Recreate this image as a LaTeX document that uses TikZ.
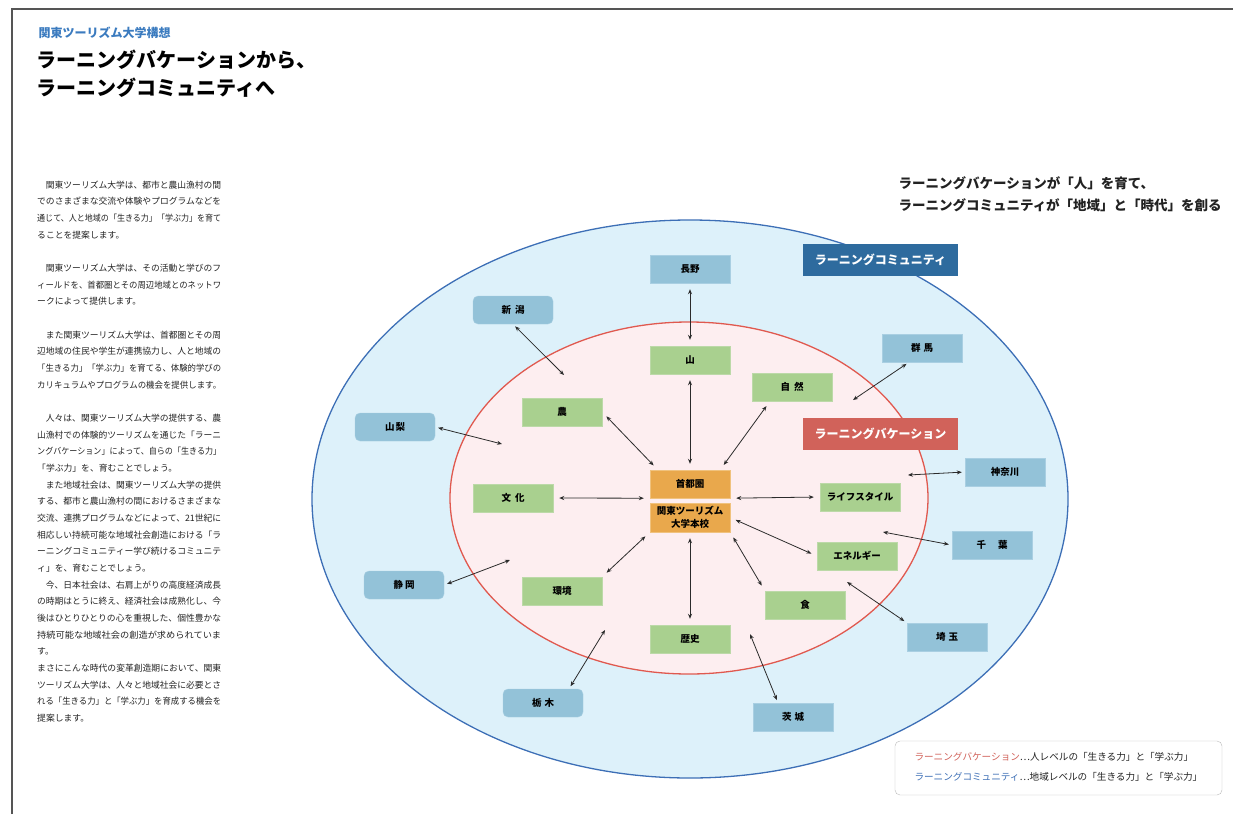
\documentclass[tikz,border=0pt]{standalone}
\usepackage{fontspec}
\setmainfont{Noto Sans CJK JP}
\usepackage{graphicx}
\usetikzlibrary{arrows.meta}
\definecolor{BgBlue}{HTML}{DDF1FA}
\definecolor{RingBlue}{HTML}{3D6FB6}
\definecolor{BgPink}{HTML}{FDEEF0}
\definecolor{RingRed}{HTML}{E0594F}
\definecolor{PrefClr}{HTML}{93C2D8}
\definecolor{PrefEdge}{HTML}{A9CFE2}
\definecolor{ThemeClr}{HTML}{A9D08F}
\definecolor{ThemeEdge}{HTML}{BCD9A8}
\definecolor{HubClr}{HTML}{E9A84C}
\definecolor{HubEdge}{HTML}{F0C27E}
\definecolor{CommClr}{HTML}{2E6B9E}
\definecolor{VacClr}{HTML}{D1625A}
\definecolor{TitleBlue}{HTML}{3B7BBF}
\definecolor{TxtGray}{HTML}{222222}
\definecolor{ArrClr}{HTML}{2B2B2B}
\definecolor{LegEdge}{HTML}{BBBBBB}
\definecolor{FrameClr}{HTML}{555555}

\newcommand\fullLine[1]{\resizebox{184pt}{\height}{#1}}

\tikzset{
  prefBox/.style={draw=PrefEdge, fill=PrefClr, minimum width=80pt, minimum height=28pt,
    inner sep=0pt, font=\fontsize{9.5}{9.5}\selectfont\bfseries},
  prefRound/.style={prefBox, rounded corners=5pt},
  themeBox/.style={prefBox, draw=ThemeEdge, fill=ThemeClr},
  hubBox/.style={prefBox, draw=HubEdge, fill=HubClr, align=center,
    font=\fontsize{9.5}{13}\selectfont\bfseries},
  tagBox/.style={minimum width=155pt, minimum height=32pt, text=white,
    font=\fontsize{12}{12}\selectfont\bfseries},
  linkArr/.style={{Stealth[length=5pt,width=4pt]}-{Stealth[length=5pt,width=4pt]},
    line width=0.8pt, draw=ArrClr, shorten <=6pt, shorten >=6pt},
  freeArr/.style={linkArr, shorten <=3pt, shorten >=0pt},
  bodyTxt/.style={anchor=base west, inner sep=0pt, text=TxtGray,
    font=\fontsize{8.8}{8.8}\selectfont},
}

\begin{document}
\begin{tikzpicture}[x=1pt,y=-1pt]
\useasboundingbox (0,0) rectangle (1233,814);

% page frame
\draw[FrameClr, line width=1.2pt] (12,814) -- (12,9) -- (1240,9);

% title
\node[anchor=west, text=TitleBlue, font=\fontsize{12}{12}\selectfont\bfseries] (kicker) at (35,33) {関東ツーリズム大学構想};
\node[anchor=west, font=\fontsize{20}{20}\selectfont\bfseries] (title1) at (33,60) {ラーニングバケーションから、};
\node[anchor=west, font=\fontsize{20}{20}\selectfont\bfseries] (title2) at (33,88) {ラーニングコミュニティへ};

% body text
\foreach \txt [count=\row from 0] in {
  \fullLine{　関東ツーリズム大学は、都市と農山漁村の間},
  \fullLine{でのさまざまな交流や体験やプログラムなどを},
  \fullLine{通じて、人と地域の「生きる力」「学ぶ力」を育て},
  ることを提案します。,
  {},
  \fullLine{　関東ツーリズム大学は、その活動と学びのフ},
  \fullLine{ィールドを、首都圏とその周辺地域とのネットワ},
  ークによって提供します。,
  {},
  \fullLine{　また関東ツーリズム大学は、首都圏とその周},
  \fullLine{辺地域の住民や学生が連携協力し、人と地域の},
  \fullLine{「生きる力」「学ぶ力」を育てる、体験的学びの},
  \fullLine{カリキュラムやプログラムの機会を提供します。},
  {},
  \fullLine{　人々は、関東ツーリズム大学の提供する、農},
  \fullLine{山漁村での体験的ツーリズムを通じた「ラーニ},
  \fullLine{ングバケーション」によって、自らの「生きる力」},
  「学ぶ力」を、育むことでしょう。,
  \fullLine{　また地域社会は、関東ツーリズム大学の提供},
  \fullLine{する、都市と農山漁村の間におけるさまざまな},
  \fullLine{交流、連携プログラムなどによって、21世紀に},
  \fullLine{相応しい持続可能な地域社会創造における「ラ},
  \fullLine{ーニングコミュニティー学び続けるコミュニテ},
  ィ」を、育むことでしょう。,
  \fullLine{　今、日本社会は、右肩上がりの高度経済成長},
  \fullLine{の時期はとうに終え、経済社会は成熟化し、今},
  \fullLine{後はひとりひとりの心を重視した、個性豊かな},
  \fullLine{持続可能な地域社会の創造が求められていま},
  す。,
  \fullLine{まさにこんな時代の変革創造期において、関東},
  \fullLine{ツーリズム大学は、人々と地域社会に必要とさ},
  \fullLine{れる「生きる力」と「学ぶ力」を育成する機会を},
  提案します。}
  \node[bodyTxt] at (37,188.3+16.66*\row) {\txt};

% motto
\node[anchor=west, text=TxtGray, font=\fontsize{13.5}{13.5}\selectfont\bfseries] (motto1) at (895,183) {ラーニングバケーションが「人」を育て、};
\node[anchor=west, text=TxtGray, font=\fontsize{13.5}{13.5}\selectfont\bfseries] (motto2) at (895,205) {ラーニングコミュニティが「地域」と「時代」を創る};

% rings
\draw[RingBlue, fill=BgBlue, line width=1.3pt] (690,499) ellipse [x radius=378pt, y radius=279pt];
\draw[RingRed, fill=BgPink, line width=1.3pt] (689,498) ellipse [x radius=239pt, y radius=176pt];

\node[tagBox, fill=CommClr] (commTag) at (880.5,260) {ラーニングコミュニティ};
\node[tagBox, fill=VacClr] (vacTag) at (880.5,434) {ラーニングバケーション};

% prefectures
\node[prefBox] (nagano) at (690,269) {長野};
\node[prefRound] (niigata) at (513,310) {新\hspace{4pt}潟};
\node[prefBox] (gunma) at (922,348) {群\hspace{3pt}馬};
\node[prefRound] (yamanashi) at (395,427) {山\hspace{1pt}梨};
\node[prefBox] (kanagawa) at (1005,472) {神奈川};
\node[prefBox] (chiba) at (992,545) {千\hspace{12pt}葉};
\node[prefRound] (shizuoka) at (404,585) {静\hspace{2pt}岡};
\node[prefBox] (saitama) at (947,637) {埼\hspace{3pt}玉};
\node[prefRound] (tochigi) at (543,703) {栃\hspace{3pt}木};
\node[prefBox] (ibaraki) at (793,717) {茨\hspace{3pt}城};

% themes
\node[themeBox] (yama) at (690,360) {山};
\node[themeBox] (shizen) at (792,387) {自\hspace{4pt}然};
\node[themeBox] (nou) at (562,412) {農};
\node[themeBox] (bunka) at (513,498) {文\hspace{4pt}化};
\node[themeBox] (life) at (860,497) {ライフスタイル};
\node[themeBox] (energy) at (857,556) {エネルギー};
\node[themeBox] (kankyo) at (562,591) {環境};
\node[themeBox] (shoku) at (805,605) {食};
\node[themeBox] (rekishi) at (690,639) {歴史};

% hub
\node[hubBox] (shuto) at (690,484) {首都圏};
\node[hubBox, minimum height=29pt] (honkou) at (690,517.5) {関東ツーリズム\\大学本校};

% inner links
\draw[linkArr] (nagano) -- (yama);
\draw[linkArr] (yama) -- (shuto);
\draw[linkArr] (nou.east) -- ([xshift=8]shuto.north west);
\draw[linkArr] ([xshift=-22]shizen.south) -- ([xshift=-10]shuto.north east);
\draw[linkArr] (bunka.east) -- (shuto.south west);
\draw[linkArr] (shuto.south east) -- (life.west);
\draw[linkArr] (honkou.east) -- (energy.west);
\draw[linkArr] (honkou.south east) -- (shoku.north west);
\draw[linkArr] (honkou) -- (rekishi);
\draw[linkArr] (honkou.south west) -- (kankyo.north east);

% outer links
\coordinate (niigataEnd) at (564,375);
\coordinate (yamanashiEnd) at (502,444);
\coordinate (shizuokaEnd) at (510,560);
\coordinate (tochigiEnd) at (605,630);
\coordinate (ibarakiEnd) at (750,634);
\coordinate (saitamaEnd) at (847,582);
\coordinate (chibaEnd) at (883,532);
\coordinate (kanagawaEnd) at (908,475);
\coordinate (gunmaEnd) at (853,400);
\draw[freeArr] (niigata.south) -- (niigataEnd);
\draw[freeArr] (yamanashi.east) -- (yamanashiEnd);
\draw[freeArr] (shizuoka.east) -- (shizuokaEnd);
\draw[freeArr] ([xshift=26]tochigi.north) -- (tochigiEnd);
\draw[freeArr] ([xshift=-15]ibaraki.north) -- (ibarakiEnd);
\draw[freeArr] (saitama.north west) -- (saitamaEnd);
\draw[freeArr] (chiba.west) -- (chibaEnd);
\draw[freeArr] (kanagawa.west) -- (kanagawaEnd);
\draw[freeArr] ([xshift=-13]gunma.south) -- (gunmaEnd);

% legend
\node[draw=LegEdge, fill=white, rounded corners=5pt, minimum width=327pt, minimum height=54pt] (legend) at (1058.5,768) {};
\node[anchor=west, text=TxtGray, font=\fontsize{9.6}{9.6}\selectfont] (legVac) at (911,757) {\textcolor{VacClr}{ラーニングバケーション}…人レベルの「生きる力」と「学ぶ力」};
\node[anchor=west, text=TxtGray, font=\fontsize{9.6}{9.6}\selectfont] (legComm) at (911,777) {\textcolor{RingBlue}{ラーニングコミュニティ}…地域レベルの「生きる力」と「学ぶ力」};
\end{tikzpicture}
\end{document}
